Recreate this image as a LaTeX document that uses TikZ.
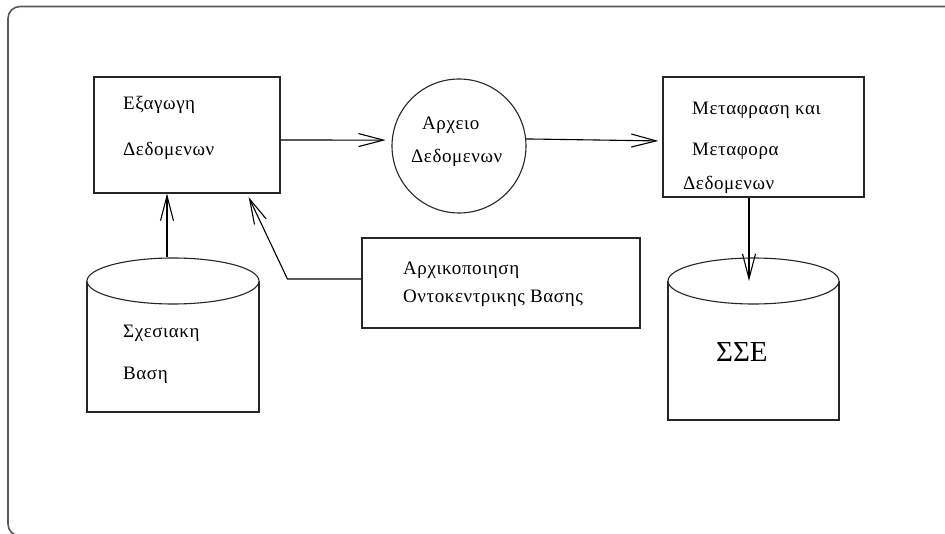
\documentclass[tikz,border=0pt]{standalone}
\usepackage{fontspec}
\setmainfont{Liberation Serif}
\newfontfamily\gr[LetterSpace=3]{Liberation Serif}
\usetikzlibrary{arrows.meta,shapes.geometric}
\begin{document}
\begin{tikzpicture}[x=1pt,y=-1pt,
  box/.style={draw=black!85, line width=1.1pt, minimum width=#1, inner sep=0pt},
  lbl/.style={inner sep=0pt, anchor=base west, font=\gr\fontsize{19}{21}\selectfont},
  arr/.style={line width=1.1pt, -{Straight Barb[length=25pt,width=13pt,line width=1.1pt]}},
  cyl/.style={draw=black!85, line width=1.1pt},
  frame/.style={draw=black!65, line width=1.6pt, rounded corners=12pt}]
\useasboundingbox (0,0) rectangle (945,534);
\clip (0,0) rectangle (945,534);
\draw[frame] (960,6.5) -- (8,6.5) -- (8,536) -- (960,536);

% boxes
\node[box=186pt, minimum height=116pt] (b1) at (187,135) {};
\node[draw=black!85, line width=1.1pt, circle, minimum size=134pt, inner sep=0pt] (circ) at (459,146) {};
\node[box=201pt, minimum height=120pt] (b3) at (763.5,137) {};
\node[box=278pt, minimum height=90pt] (b4) at (501,283) {};

% cylinders
\draw[cyl] (87,281) -- (87,412) -- (259,412) -- (259,281);
\node[cyl, ellipse, fill=white, minimum width=172pt, minimum height=46pt, inner sep=0pt] (c1top) at (173,281) {};
\draw[cyl] (668,281) -- (668,420) -- (839,420) -- (839,281);
\node[cyl, ellipse, fill=white, minimum width=171pt, minimum height=46pt, inner sep=0pt] (c2top) at (753.5,281) {};

% texts
\node[lbl] (t1a) at (123,110) {Εξαγωγη};
\node[lbl] (t1b) at (123,156) {Δεδομενων};
\node[lbl] (t2a) at (422,130) {Αρχειο};
\node[lbl] (t2b) at (411,163) {Δεδομενων};
\node[lbl] (t3a) at (692,115) {Μεταφραση και};
\node[lbl] (t3b) at (692,156) {Μεταφορα};
\node[lbl] (t3c) at (683,190) {Δεδομενων};
\node[lbl] (t4a) at (403,275) {Αρχικοποιηση};
\node[lbl] (t4b) at (403,303) {Οντοκεντρικης Βασης};
\node[lbl] (t5a) at (123,338) {Σχεσιακη};
\node[lbl] (t5b) at (123,380) {Βαση};
\node[inner sep=0pt, anchor=base west, font=\fontsize{29}{32}\selectfont] (t6) at (716,362) {ΣΣΕ};

% connectors
\draw[arr, shorten >=6pt] ([yshift=-5pt]b1.east) -- (circ.175);
\draw[arr, shorten >=4pt] (circ.6) -- ([yshift=-4pt]b3.west);
\draw[arr] ([xshift=-14.5pt]b3.south) -- ([xshift=-14.5pt]b3.south |- c2top.center);
\draw[arr] ([xshift=-20pt]b1.south |- c1top.north) -- ([xshift=-20pt]b1.south);
\draw[arr, shorten >=4pt] ([yshift=4pt]b4.west) -- ++(-74,0) -- ([xshift=60pt]b1.south);
\end{tikzpicture}
\end{document}
